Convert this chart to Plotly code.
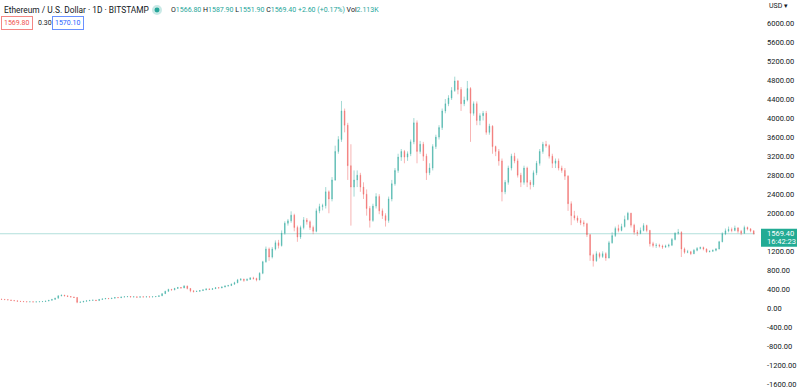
import plotly.graph_objects as go
import pandas as pd

# ---------------- data (5-day candles) ----------------
first_open = 195
closes = [190,185,178,168,160,150,146,142,138,140,
          135,138,142,145,155,170,190,215,265,280,
          265,250,240,230,130,135,150,160,170,175,
          165,190,200,210,205,215,230,225,240,245,
          250,240,245,235,245,240,245,240,245,250,
          265,310,360,400,390,420,440,430,470,420,
          370,355,360,375,390,410,400,415,435,430,
          450,470,480,510,540,600,615,590,610,640,
          630,600,740,980,1250,1080,1250,1380,1320,1580,
          1790,1840,1960,1700,1500,1700,1860,1820,1700,1620,
          2050,2140,2160,2450,2300,2700,3300,3550,4150,3850,
          3000,2550,2700,2800,2550,2400,2100,1850,2150,2350,
          2050,1950,1850,2300,2620,2900,3180,3300,3180,3250,
          3500,3900,3300,3450,3200,2850,2950,3400,3600,3800,
          4150,4300,4420,4580,4780,4600,4300,4380,4620,4100,
          4300,3950,4050,4100,3700,3830,3400,3300,3100,2450,
          2650,2950,3200,3100,2800,2650,2950,2650,2600,2850,
          3050,3300,3450,3420,3200,3050,3100,2950,2900,2780,
          2200,1950,1900,1850,1800,1780,1550,1120,1000,1150,
          1090,1150,1060,1380,1530,1680,1640,1720,1870,2000,
          1750,1600,1580,1640,1740,1640,1360,1320,1330,1310,
          1290,1310,1330,1450,1580,1600,1250,1180,1190,1150,
          1220,1260,1280,1250,1190,1200,1220,1250,1400,1570,
          1630,1660,1640,1690,1620,1580,1700,1670,1630,1569.4]
highs = [200,194,188,181,171,163,153,149,145,144,
         143,141,146,150,159,175,196,222,275,288,
         284,270,256,246,236,142,156,166,176,182,
         180,196,208,218,216,222,238,236,247,252,
         256,254,250,248,250,249,250,249,250,256,
         272,320,372,412,410,432,452,448,490,480,
         428,380,372,385,398,420,418,425,445,448,
         462,485,495,525,560,620,635,625,630,660,
         665,645,760,1000,1300,1280,1290,1430,1440,1640,
         1830,1880,2040,1990,1740,1740,1920,1900,1850,1740,
         2100,2200,2200,2550,2480,2760,3420,3620,4360,4200,
         3900,3450,2900,2900,2850,2650,2500,2150,2200,2420,
         2400,2100,2000,2350,2700,2950,3250,3350,3330,3300,
         3550,4000,3950,3520,3500,3250,3050,3450,3650,3850,
         4200,4400,4480,4650,4870,4800,4650,4450,4780,4650,
         4350,4350,4100,4150,4150,3880,3850,3420,3350,3150,
         2700,3000,3250,3270,3150,2850,3000,2980,2700,2900,
         3100,3350,3500,3520,3450,3250,3150,3150,3000,2950,
         2800,2250,2050,1950,1900,1850,1800,1560,1150,1200,
         1180,1200,1180,1420,1600,1720,1760,1780,1950,2030,
         2010,1780,1650,1700,1790,1760,1650,1400,1370,1360,
         1340,1340,1360,1480,1600,1670,1620,1280,1230,1210,
         1250,1290,1300,1300,1260,1220,1240,1270,1420,1600,
         1680,1720,1700,1740,1710,1650,1740,1720,1690,1640]
lows = [184,180,174,164,156,146,142,138,133,134,
        131,132,135,139,142,152,166,186,210,255,
        255,242,232,220,110,118,128,145,155,165,
        158,160,184,195,198,200,210,218,220,234,
        238,234,235,228,230,234,235,235,236,240,
        245,260,305,350,375,382,410,415,425,400,
        340,335,345,352,368,382,390,392,408,420,
        425,442,460,470,500,530,580,560,575,600,
        605,570,590,720,960,1000,1050,1220,1260,1300,
        1550,1740,1800,1620,1400,1460,1660,1760,1650,1560,
        1600,2000,2060,2100,2000,2250,2680,3250,3500,3700,
        2700,1740,2350,2550,2450,2300,1950,1700,1820,2100,
        1980,1880,1720,1800,2250,2580,2850,3100,3050,3100,
        3200,3450,3050,3250,3100,2700,2800,2900,3350,3550,
        3750,4100,4250,4380,4550,4500,4150,4250,4350,3500,
        4050,3850,3850,3950,3650,3650,3250,3200,3000,2250,
        2400,2600,2900,3050,2750,2550,2600,2550,2500,2550,
        2800,3000,3250,3380,3150,2950,2950,2900,2850,2700,
        2050,1750,1850,1800,1750,1720,1500,1000,880,980,
        1050,1060,1000,1050,1360,1500,1600,1620,1700,1850,
        1700,1550,1520,1560,1620,1600,1300,1280,1270,1280,
        1250,1270,1280,1310,1430,1550,1080,1150,1160,1120,
        1140,1200,1240,1220,1170,1180,1190,1200,1240,1390,
        1540,1600,1600,1620,1580,1540,1570,1640,1600,1551.9]
opens = [first_open] + closes[:-1]
start_date = "2019-11-21"
dates = pd.date_range(start_date, periods=len(closes), freq="5D")

tick_vals = [6000, 5600, 5200, 4800, 4400, 4000, 3600, 3200, 2800, 2400, 2000,
             1200, 800, 400, 0, -400, -800, -1200, -1600]
tick_text = [f"{v:.2f}" for v in tick_vals]

last_price = 1569.40
countdown = "16:42:23"
title = "Ethereum / U.S. Dollar · 1D · BITSTAMP"
ohlc_labels = ["O", "H", "L", "C"]
ohlc_values = ["1566.80", "1587.90", "1551.90", "1569.40"]
change_text = "+2.60 (+0.17%)"
volume_text = "2.113K"
bid_text, spread_text, ask_text = "1569.80", "0.30", "1570.10"
currency = "USD ▾"

# ---------------- style ----------------
W, H = 800, 389
R_MARGIN = 45
PW, PH = W - R_MARGIN, H
Y_RANGE = [-1651, 6481]
UP, DOWN = "#26a69a", "#ef5350"
TXT = "#131722"
FONT = "Roboto"

def ax(px):
    return px / PW

def ay(py):
    return 1 - py / PH

fig = go.Figure()
fig.add_trace(go.Candlestick(
    x=dates, open=opens, high=highs, low=lows, close=closes,
    increasing=dict(line=dict(color=UP, width=0.5), fillcolor=UP),
    decreasing=dict(line=dict(color=DOWN, width=0.5), fillcolor=DOWN),
    whiskerwidth=0, opacity=0.85, hoverinfo="skip", showlegend=False,
))

x0 = dates[0] - pd.Timedelta(days=2.5)
x1 = dates[-1] + pd.Timedelta(days=2)

fig.update_layout(
    width=W, height=H,
    margin=dict(l=0, r=R_MARGIN, t=0, b=0),
    paper_bgcolor="white", plot_bgcolor="white",
    font=dict(family=FONT, color=TXT, size=8),
    boxgap=0.7,
    xaxis=dict(range=[x0, x1], visible=False, rangeslider=dict(visible=False)),
    yaxis=dict(range=Y_RANGE, side="right", tickvals=tick_vals, ticktext=tick_text,
               showgrid=False, zeroline=False, showline=False, ticks="",
               ticklabelstandoff=11, ticklabeloverflow="allow",
               tickfont=dict(family=FONT, size=7.5, color=TXT)),
    showlegend=False,
)

# last price line
fig.add_shape(type="line", xref="paper", x0=0, x1=1, yref="y", y0=last_price, y1=last_price,
              line=dict(color="rgba(38,166,154,0.35)", width=1), layer="below")

# price label box
py_price = (Y_RANGE[1] - last_price) / (Y_RANGE[1] - Y_RANGE[0]) * PH
fig.add_shape(type="rect", xref="paper", yref="paper",
              x0=ax(761), x1=ax(797), y0=ay(py_price + 13), y1=ay(py_price - 5),
              fillcolor="#22ab94", line=dict(width=0), layer="above")
fig.add_annotation(xref="paper", yref="y", x=ax(765), y=last_price, xanchor="left", yanchor="middle",
                   text=f"{last_price:.2f}", showarrow=False, font=dict(color="white", size=7.5))
fig.add_annotation(xref="paper", yref="y", x=ax(765), y=last_price, yshift=-8,
                   xanchor="left", yanchor="middle",
                   text=countdown, showarrow=False, font=dict(color="white", size=7.5))

# currency label
fig.add_annotation(xref="paper", yref="paper", x=ax(767), y=ay(6), xanchor="left", yanchor="middle",
                   text=currency, showarrow=False, font=dict(size=7, color=TXT))

# header
fig.add_annotation(xref="paper", yref="paper", x=ax(2), y=ay(10), xanchor="left", yanchor="middle",
                   text=title, showarrow=False, font=dict(size=8.4, color=TXT))
fig.add_shape(type="circle", xref="paper", yref="paper",
              x0=ax(152), x1=ax(162), y0=ay(15), y1=ay(5),
              fillcolor="rgba(38,166,154,0.25)", line=dict(width=0))
fig.add_shape(type="circle", xref="paper", yref="paper",
              x0=ax(154.5), x1=ax(159.5), y0=ay(12.5), y1=ay(7.5),
              fillcolor=UP, line=dict(width=0))

parts = []
for lab, val in zip(ohlc_labels, ohlc_values):
    parts.append(f"{lab}<span style='color:{UP}'>{val}</span>")
parts.append(f"<span style='color:{UP}'>{change_text}</span>")
parts.append(f"Vol<span style='color:{UP}'>{volume_text}</span>")
fig.add_annotation(xref="paper", yref="paper", x=ax(169), y=ay(10), xanchor="left", yanchor="middle",
                   text=" ".join(parts), showarrow=False, font=dict(size=7, color=TXT))

# bid / spread / ask
fig.add_annotation(xref="paper", yref="paper", x=ax(1), y=ay(23), xanchor="left", yanchor="middle",
                   text=bid_text, showarrow=False, font=dict(size=7, color=DOWN),
                   bordercolor="rgba(239,83,80,0.7)", borderwidth=1, borderpad=2)
fig.add_annotation(xref="paper", yref="paper", x=ax(36), y=ay(23), xanchor="left", yanchor="middle",
                   text=spread_text, showarrow=False, font=dict(size=7, color=TXT))
fig.add_annotation(xref="paper", yref="paper", x=ax(52), y=ay(23), xanchor="left", yanchor="middle",
                   text=ask_text, showarrow=False, font=dict(size=7, color="#2962ff"),
                   bordercolor="rgba(41,98,255,0.7)", borderwidth=1, borderpad=2)

fig.write_html("out.html", config={"displayModeBar": False},
               post_script="document.body.style.margin='0';document.body.style.overflow='hidden';")
